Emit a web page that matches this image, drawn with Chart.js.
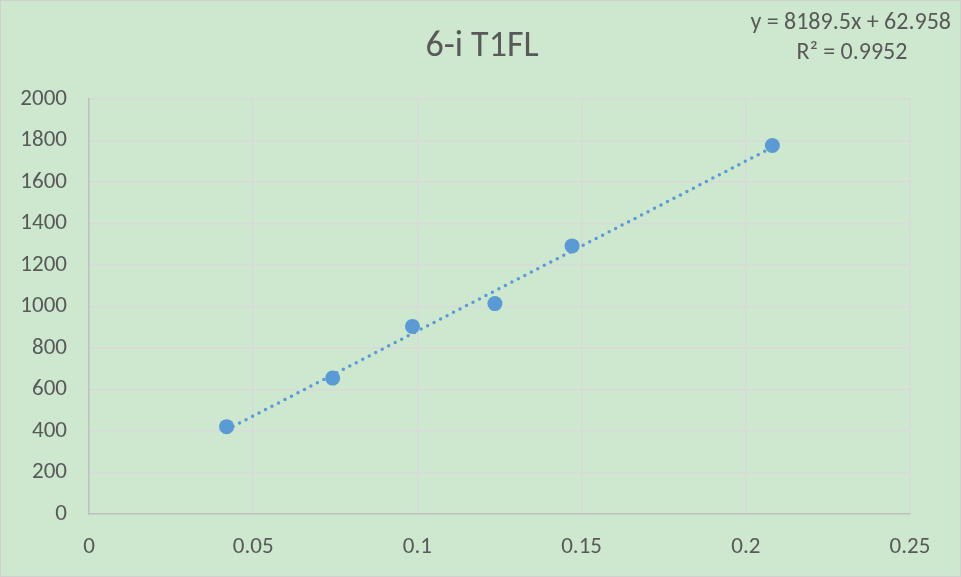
<!DOCTYPE html>
<html>
<head>
<meta charset="utf-8">
<script src="https://cdn.jsdelivr.net/npm/chart.js@4"></script>
<style>
html,body{margin:0;padding:0;background:#cde8cf;}
#wrap{position:absolute;left:0;top:0;width:959px;height:575px;border:1px solid #d0d0d0;background:#cde8cf;}
canvas{display:block;}
</style>
</head>
<body>
<div id="wrap"><canvas id="c" width="959" height="575"></canvas></div>
<script>
const chartTitle = "6-i T1FL";
const xValues = [0.0419, 0.0742, 0.0985, 0.1236, 0.1471, 0.2081];
const yValues = [421, 655, 904, 1014, 1292, 1776];
const trendSlope = 8189.5;
const trendIntercept = 62.958;
const equationLabel = "y = 8189.5x + 62.958";
const r2Label = "R² = 0.9952";
const xTicks = [0, 0.05, 0.1, 0.15, 0.2, 0.25];
const yTicks = [0, 200, 400, 600, 800, 1000, 1200, 1400, 1600, 1800, 2000];

const FONT = "Carlito, 'Liberation Sans', Arial, sans-serif";
const TXT = "#595959";

const points = xValues.map((x, i) => ({x: x, y: yValues[i]}));
const xMin = Math.min(...xValues), xMax = Math.max(...xValues);
const trend = [xMin, xMax].map(x => ({x: x, y: trendSlope * x + trendIntercept}));

const textPlugin = {
  id: 'texts',
  afterDraw(chart) {
    const ctx = chart.ctx;
    ctx.save();
    ctx.fillStyle = TXT;
    ctx.textBaseline = 'middle';
    ctx.font = "36px " + FONT;
    ctx.textAlign = 'center';
    ctx.fillText(chartTitle, 481, 46);
    ctx.font = "24px " + FONT;
    ctx.textAlign = 'right';
    ctx.fillText(equationLabel, 950, 22);
    ctx.textAlign = 'center';
    ctx.fillText(r2Label, 851, 52);
    ctx.restore();
  }
};

new Chart(document.getElementById('c'), {
  type: 'scatter',
  data: {
    datasets: [
      {
        label: 'trend',
        data: trend,
        showLine: true,
        borderColor: '#5b9bd5',
        borderWidth: 3.5,
        borderDash: [0, 7.3],
        borderCapStyle: 'round',
        pointRadius: 0,
        fill: false,
        order: 2
      },
      {
        label: 'data',
        data: points,
        backgroundColor: '#5b9bd5',
        borderColor: '#5b9bd5',
        pointRadius: 7.5,
        pointBorderWidth: 0,
        order: 1
      }
    ]
  },
  options: {
    responsive: false,
    animation: false,
    events: [],
    layout: {padding: {left: 0, right: 50, top: 98, bottom: 0}},
    plugins: {legend: {display: false}, title: {display: false}, tooltip: {enabled: false}},
    scales: {
      x: {
        type: 'linear',
        min: 0, max: 0.25,
        afterBuildTicks(s) { s.ticks = xTicks.map(v => ({value: v})); },
        afterFit(s) { s.height = 62; },
        grid: {color: '#d9d9d9', lineWidth: 1.5, drawTicks: false},
        border: {color: '#bfbfbf', width: 1.5},
        ticks: {color: TXT, font: {family: FONT, size: 23}, padding: 19,
          callback: v => String(v)}
      },
      y: {
        type: 'linear',
        min: 0, max: 2000,
        afterBuildTicks(s) { s.ticks = yTicks.map(v => ({value: v})); },
        afterFit(s) { s.width = 88; },
        grid: {color: '#d9d9d9', lineWidth: 1.5, drawTicks: false},
        border: {color: '#bfbfbf', width: 1.5},
        ticks: {color: TXT, font: {family: FONT, size: 23}, padding: 22,
          callback: v => String(v)}
      }
    }
  },
  plugins: [textPlugin]
});
</script>
</body>
</html>
